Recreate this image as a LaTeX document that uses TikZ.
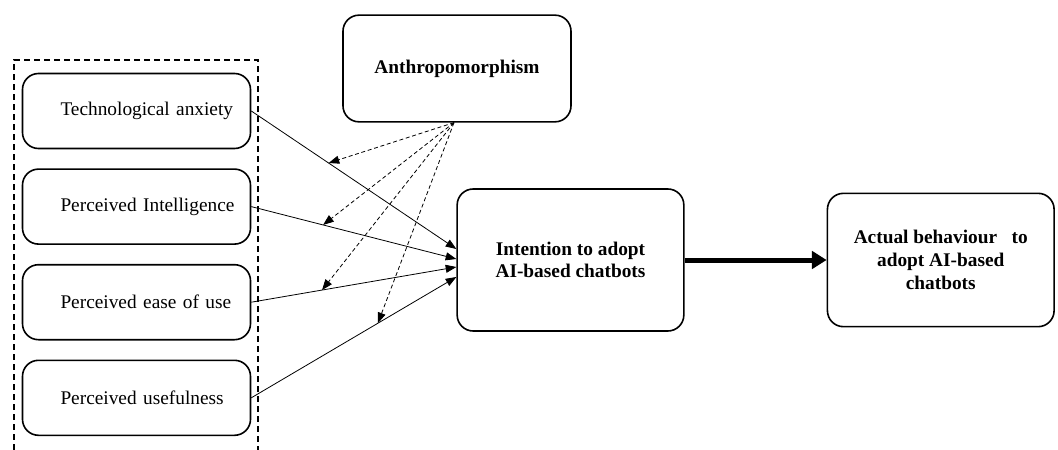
\documentclass[tikz,border=0pt]{standalone}
\usepackage{fontspec}
\setmainfont{Liberation Serif}
\usetikzlibrary{arrows.meta, positioning, calc}

\begin{document}
\begin{tikzpicture}[
  x=0.75pt, y=-0.75pt,
  box/.style={rectangle, draw, line width=1.2pt, rounded corners=12pt, minimum width=171pt, minimum height=56.25pt, align=center, font=\fontsize{14.5}{17}\selectfont},
  leftbox/.style={box, text width=171pt, inner xsep=0pt, align=left, execute at begin node={\hspace*{28.5pt}}},
  bigbox/.style={box, font=\fontsize{14.5}{17}\selectfont\bfseries},
  arrow/.style={-{Triangle[length=8pt, width=6pt]}, line width=0.6pt},
  modarrow/.style={arrow, dashed, dash pattern=on 3pt off 2pt},
  mainarrow/.style={-{Triangle[length=11pt, width=13pt]}, line width=3.75pt}
]
\useasboundingbox (0,0) rectangle (1058,450);

% predictors
\node[leftbox] (TA) at (136.5,111) {Technological anxiety};
\node[leftbox, below=14.25pt of TA] (PI) {Perceived Intelligence};
\node[leftbox, below=14.25pt of PI] (PE) {Perceived ease of use};
\node[leftbox, below=14.25pt of PE] (PU) {Perceived usefulness};
\draw[line width=1.2pt, dash pattern=on 4.5pt off 3pt] (258,452) -- (258,60) -- (14,60) -- (14,452);

% moderator and outcomes
\node[bigbox, minimum height=80pt] (AN) at (457,68.5) {Anthropomorphism};
\node[bigbox, minimum width=170pt, minimum height=106.5pt] (IA) at (570.5,260) {Intention to adopt\\AI-based chatbots};
\node[bigbox, minimum width=170pt, minimum height=100pt, right=106.5pt of IA] (AB) {Actual behaviour\ \ \ to\\adopt AI-based\\chatbots};

\draw[arrow] (TA.east) -- coordinate[pos=0.377] (m1) ($(IA.west)+(0,-11)$);
\draw[arrow] (PI.east) -- coordinate[pos=0.35] (m2) ($(IA.west)+(0,-1)$);
\draw[arrow] (PE.east) -- coordinate[pos=0.345] (m3) ($(IA.west)+(0,7)$);
\draw[arrow] (PU.east) -- coordinate[pos=0.617] (m4) ($(IA.west)+(0,17)$);

\foreach \m in {m1,m2,m3,m4}
  \draw[modarrow] ($(AN.south)+(-3,0)$) -- (\m);

\draw[mainarrow] (IA.east) -- (AB.west);
\end{tikzpicture}
\end{document}
